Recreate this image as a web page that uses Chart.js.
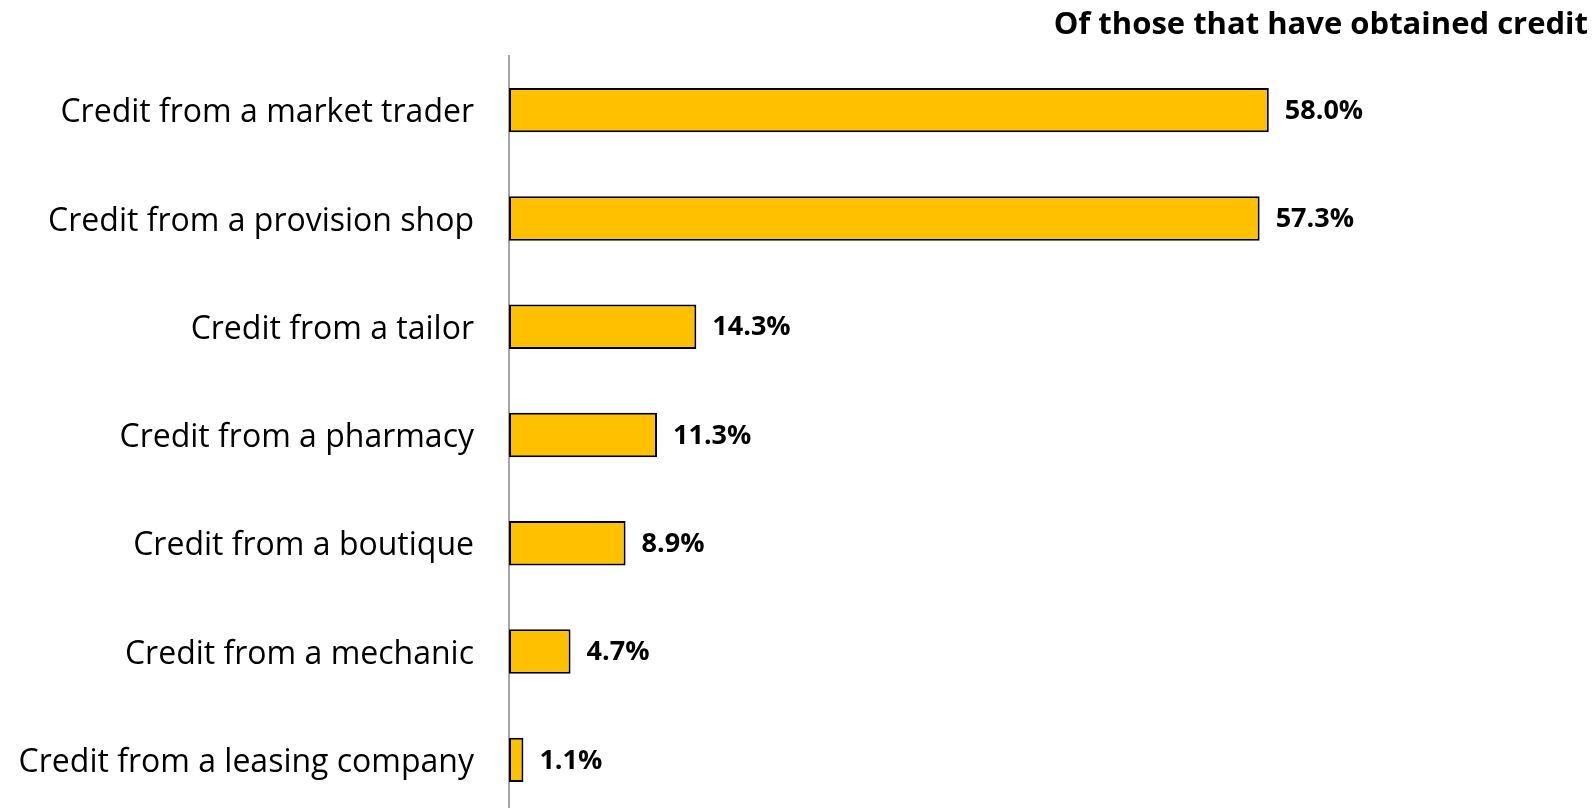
<!doctype html>
<html lang="en">
<head>
<meta charset="utf-8">
<title>Credit sources</title>
<style>
  html, body { margin: 0; padding: 0; background: #fff; overflow: hidden; }
  #wrap { position: relative; width: 1596px; height: 816px; }
</style>
</head>
<body>
<div id="wrap"><canvas id="myChart"></canvas></div>
<script src="https://cdn.jsdelivr.net/npm/chart.js@4/dist/chart.umd.min.js"></script>
<script>
// categories and shares (%)
var categories = [
  'Credit from a market trader',
  'Credit from a provision shop',
  'Credit from a tailor',
  'Credit from a pharmacy',
  'Credit from a boutique',
  'Credit from a mechanic',
  'Credit from a leasing company'
];
var shares = [58.0, 57.3, 14.3, 11.3, 8.9, 4.7, 1.1];
var chartTitle = 'Of those that have obtained credit';

var FONT = '"Open Sans", "Noto Sans", sans-serif';

// value labels at the end of each bar
var valueLabels = {
  id: 'valueLabels',
  afterDatasetsDraw: function (chart) {
    var ctx = chart.ctx;
    var meta = chart.getDatasetMeta(0);
    ctx.save();
    ctx.font = 'bold 27px ' + FONT;
    ctx.fillStyle = '#000';
    ctx.textAlign = 'left';
    ctx.textBaseline = 'middle';
    meta.data.forEach(function (bar, i) {
      ctx.fillText(shares[i].toFixed(1) + '%', bar.x + 16, bar.y + 1);
    });
    ctx.restore();
  }
};

// heading in the top right corner
var cornerTitle = {
  id: 'cornerTitle',
  afterDraw: function (chart) {
    var ctx = chart.ctx;
    ctx.save();
    ctx.font = 'bold 31px ' + FONT;
    ctx.fillStyle = '#000';
    ctx.textAlign = 'right';
    ctx.textBaseline = 'middle';
    ctx.fillText(chartTitle, 1588, 25);
    ctx.restore();
  }
};

var ctx = document.getElementById('myChart').getContext('2d');
var chart = new Chart(ctx, {
  type: 'bar',
  data: {
    labels: categories,
    datasets: [{
      data: shares,
      backgroundColor: '#FFC000',
      borderColor: '#000',
      borderWidth: 2,
      borderSkipped: false,
      categoryPercentage: 1,
      barPercentage: 0.41
    }]
  },
  options: {
    indexAxis: 'y',
    responsive: true,
    maintainAspectRatio: false,
    animation: false,
    devicePixelRatio: 1,
    layout: { padding: { top: 56, right: 39, bottom: 2, left: 0 } },
    plugins: {
      legend: { display: false },
      tooltip: { enabled: false },
      title: { display: false }
    },
    scales: {
      x: {
        display: false,
        min: 0,
        max: 80
      },
      y: {
        // fixed label column; drop the extra top/bottom room the labels ask for
        afterFit: function (scale) {
          scale.width = 509;
          scale.paddingTop = 0;
          scale.paddingBottom = 0;
        },
        grid: { display: false, drawTicks: false },
        border: { display: true, color: '#a6a6a6', width: 2 },
        ticks: {
          color: '#000',
          padding: 35,
          labelOffset: 3,
          font: { family: FONT, size: 32 }
        }
      }
    }
  },
  plugins: [valueLabels, cornerTitle]
});
</script>
</body>
</html>
